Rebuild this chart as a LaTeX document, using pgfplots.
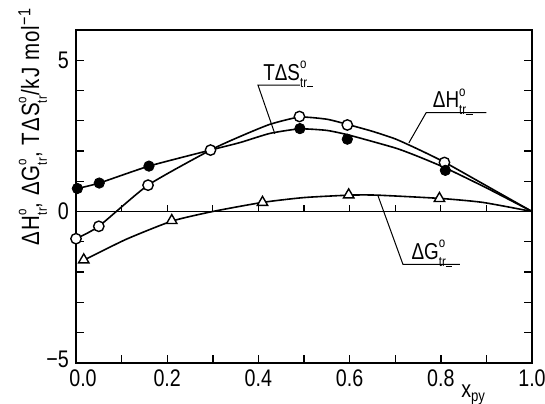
\documentclass[border=0pt]{standalone}
\usepackage{fontspec}
\setmainfont{Liberation Sans}[FakeStretch=0.82]
\usepackage{pgfplots}
\pgfplotsset{compat=1.18}
\usetikzlibrary{calc}

% small o above the subscript tr
\newcommand\tr{\rlap{\raisebox{0.95ex}{\scriptsize o}}\raisebox{-0.6ex}{\scriptsize tr}}
\newcommand\trd{\rlap{\raisebox{0.95ex}{\scriptsize o}}\raisebox{-0.6ex}{\scriptsize tr\rule{0.45em}{0.07em}}}

\begin{document}
\begin{tikzpicture}
\begin{axis}[
  name=ax,
  scale only axis,
  width=228pt, height=166.35pt,
  xmin=0, xmax=1, ymin=-5, ymax=6,
  xtick={0,0.2,0.4,0.6,0.8,1},
  xticklabels={\hspace*{7pt}0.0,0.2,0.4,0.6,0.8,1.0},
  minor xtick={0.1,0.3,0.5,0.7,0.9},
  xtick pos=left,
  ytick={-5,0,5},
  yticklabels={\raisebox{3pt}{−5},0,5},
  minor ytick={-4,-3,-2,-1,1,2,3,4},
  major tick length=4pt, minor tick length=4pt,
  tick style={line width=0.7pt, black},
  axis line style={line width=0.9pt},
  tick label style={font=\fontsize{12}{12}\selectfont},
  /pgf/number format/assume math mode=true,
  ylabel={\fontsize{12.5}{13}\selectfont\addfontfeature{LetterSpace=4}ΔH\tr, ΔG\tr, TΔS\tr/kJ mol\textsuperscript{−1}},
  ylabel style={at={(axis description cs:-0.095,0.71)}, anchor=center},
  xlabel={\fontsize{12}{12}\selectfont x\textsubscript{py}},
  xlabel style={at={(axis description cs:0.872,-0.097)}, anchor=center},
  clip=false,
]
% zero line with its small ticks
\addplot[line width=0.6pt] coordinates {(0,0) (1,0)};
\addplot[ycomb, line width=0.6pt, no marks] coordinates {
  (0.1,0.22) (0.2,0.22) (0.3,0.22) (0.4,0.22) (0.5,0.22)
  (0.6,0.22) (0.7,0.22) (0.8,0.22) (0.9,0.22)};

% Delta H (open circles) curve
\addplot[line width=0.8pt, smooth, tension=0.35] coordinates {
  (0,-0.90) (0.05,-0.49) (0.158,0.87) (0.295,2.03) (0.36,2.48)
  (0.425,2.88) (0.49,3.12) (0.55,3.05) (0.595,2.88) (0.65,2.65)
  (0.70,2.40) (0.75,2.06) (0.808,1.63) (0.90,0.85) (1.0,0)};
% T Delta S (filled circles) curve
\addplot[line width=0.8pt, smooth, tension=0.35] coordinates {
  (0.003,0.76) (0.051,0.94) (0.16,1.5) (0.295,2.03) (0.36,2.28)
  (0.425,2.58) (0.49,2.73) (0.55,2.68) (0.60,2.52) (0.70,2.10)
  (0.75,1.82) (0.81,1.44) (0.90,0.78) (1.0,0)};
% Delta G (triangles) curve
\addplot[line width=0.8pt, smooth, tension=0.35] coordinates {
  (0.017,-1.61) (0.11,-0.92) (0.21,-0.32) (0.30,0.0) (0.409,0.30)
  (0.50,0.46) (0.60,0.54) (0.66,0.54) (0.80,0.43) (0.892,0.30) (1.0,0)};

% markers
\addplot[only marks, mark=*, mark size=2.6pt, mark options={fill=white, draw=black, line width=0.7pt}] coordinates {
  (0,-0.9) (0.05,-0.49) (0.158,0.87) (0.295,2.03) (0.49,3.14) (0.595,2.86) (0.808,1.62)};
\addplot[only marks, mark=*, mark size=2.6pt, mark options={fill=black, draw=black}] coordinates {
  (0.003,0.76) (0.051,0.94) (0.16,1.5) (0.491,2.74) (0.595,2.39) (0.81,1.36)};
\addplot[only marks, mark=triangle*, mark size=3pt, mark options={fill=white, draw=black, line width=0.7pt}] coordinates {
  (0.017,-1.6) (0.21,-0.3) (0.409,0.3) (0.598,0.55) (0.797,0.43)};

% labels with leader lines
\draw[line width=0.5pt] (axis cs:0.491,4.18) -- (axis cs:0.399,4.18) -- (axis cs:0.436,2.57);
\node[anchor=base west, inner sep=0, yshift=2.5pt, font=\fontsize{11.5}{12}\selectfont] at (axis cs:0.41,4.18) {TΔS\trd};
\draw[line width=0.5pt] (axis cs:0.90,3.27) -- (axis cs:0.768,3.27) -- (axis cs:0.730,2.27);
\node[anchor=base west, inner sep=0, yshift=2.5pt, font=\fontsize{11.5}{12}\selectfont] at (axis cs:0.782,3.27) {ΔH\trd};
\draw[line width=0.5pt] (axis cs:0.842,-1.75) -- (axis cs:0.717,-1.75) -- (axis cs:0.662,0.53);
\node[anchor=base west, inner sep=0, yshift=2.5pt, font=\fontsize{11.5}{12}\selectfont] at (axis cs:0.735,-1.75) {ΔG\trd};
\end{axis}
\pgfresetboundingbox
\path ($(ax.south west)+(-38pt,-20.15pt)$) rectangle ($(ax.north east)+(6.5pt,15pt)$);
\end{tikzpicture}
\end{document}
